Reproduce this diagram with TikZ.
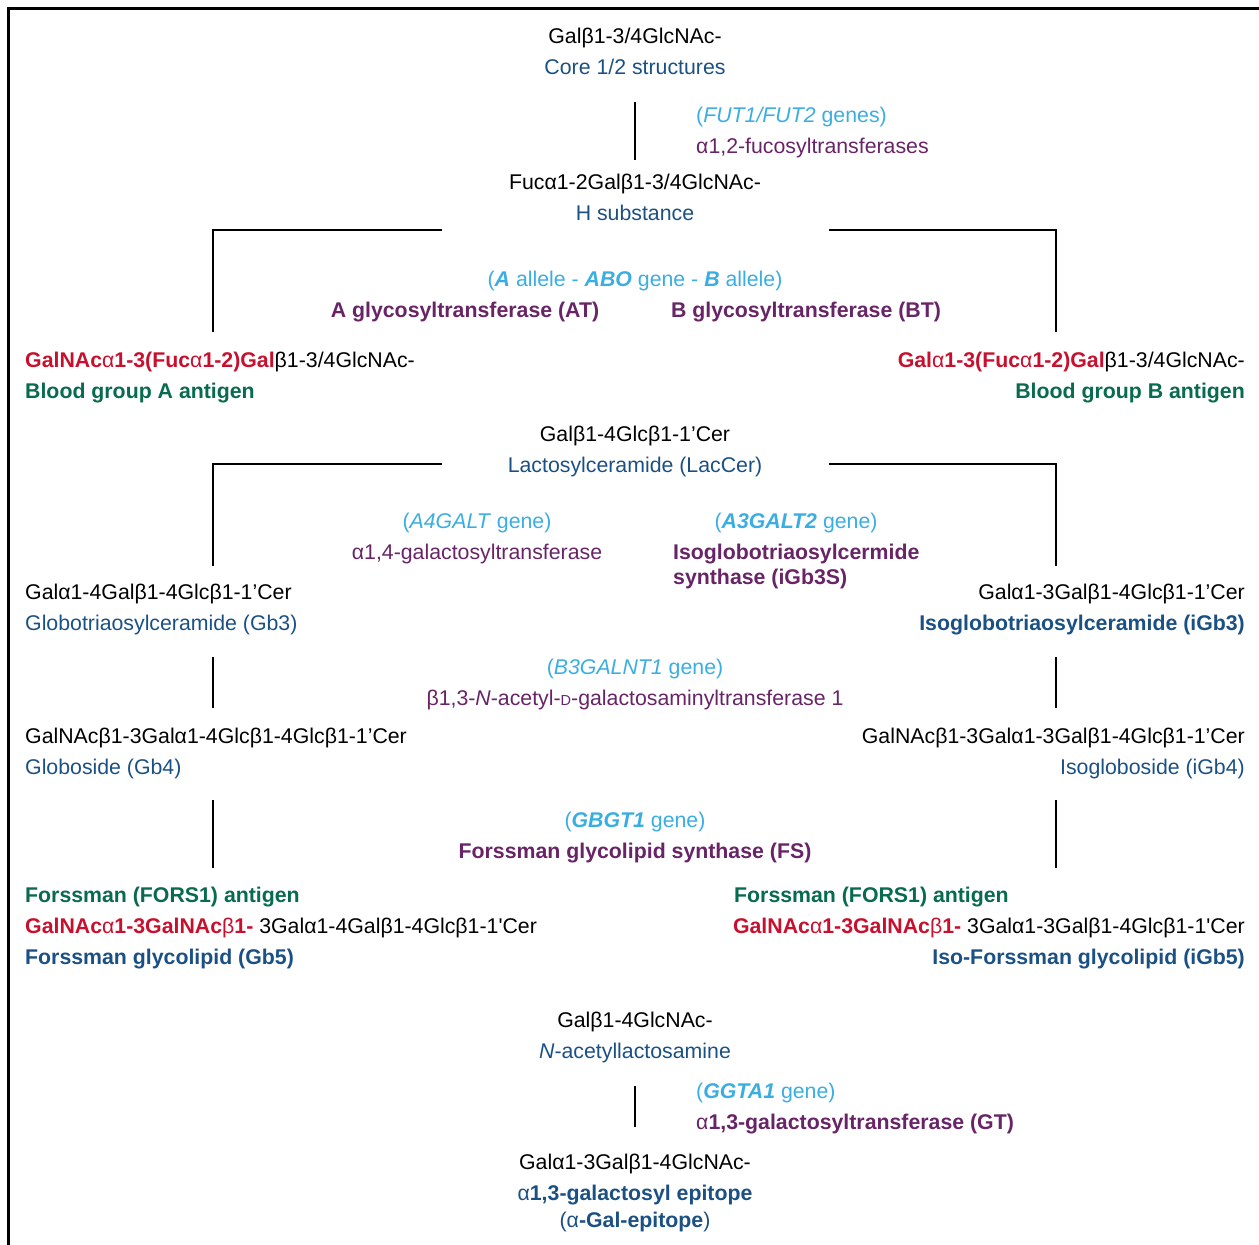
\documentclass[tikz,border=0pt]{standalone}
\usepackage{fontspec}
\setmainfont{Liberation Sans}
\usepackage{tikz}
\usetikzlibrary
  {
    positioning,              % place nodes relative to other nodes
  }

\definecolor{namblue}{RGB}{27,80,132}
\definecolor{genblue}{RGB}{58,174,226}
\definecolor{enzpurple}{RGB}{104,36,102}
\definecolor{epired}{RGB}{200,16,46}
\definecolor{antgreen}{RGB}{8,106,78}

\newcommand{\glyfont}{\fontsize{21.3}{25}\selectfont}
\newcommand{\smalld}{{\fontsize{14.5}{15}\selectfont D}}

\begin{document}
\begin{tikzpicture}
    [
      x=1pt, y=1pt,
      node distance=31pt,
      on grid,
      every node/.style=
        {
          inner sep=0pt,
          text height=15.2pt,
          text depth=0pt,
          font=\glyfont,
        },
      sugar/.style={text=black},
      trivial/.style={text=namblue},
      boldname/.style={text=namblue, font=\glyfont\bfseries},
      gene/.style={text=genblue},
      enzyme/.style={text=enzpurple},
      boldenzyme/.style={text=enzpurple, font=\glyfont\bfseries},
      antigen/.style={text=antgreen, font=\glyfont\bfseries},
      branch/.style={line width=2.8pt},
      frame/.style={line width=3pt},
    ]
    \useasboundingbox (0,0) rectangle (1259,-1245);

    % frame
    \coordinate (frametop)    at (1259,-8);
    \coordinate (framecorner) at (8,-8);
    \coordinate (framebottom) at (8,-1245);
    \draw[frame] (frametop) -- (framecorner) -- (framebottom);

    % H substance
    \node[sugar]   (core)     at (635,-36)             {Galβ1-3/4GlcNAc-};
    \node[trivial] (corename) [below=of core]          {Core 1/2 structures};
    \node[gene]    (fut)      at (696,-115) [anchor=west] {(\textit{FUT1/FUT2} genes)};
    \node[enzyme]  (futenz)   [below=of fut.west, anchor=west] {α1,2-fucosyltransferases};
    \node[sugar]   (hsub)     at (635,-182)            {Fucα1-2Galβ1-3/4GlcNAc-};
    \node[trivial] (hname)    [below=of hsub]          {H substance};

    % ABO
    \node[gene]       (abo)   at (635,-279)
      {(\textbf{\textit{A}} allele - \textbf{\textit{ABO}} gene - \textbf{\textit{B}} allele)};
    \node[boldenzyme] (atr)   at (465,-310)            {A glycosyltransferase (AT)};
    \node[boldenzyme] (btr)   at (806,-310)            {B glycosyltransferase (BT)};
    \node[sugar]      (agA)   at (25,-360) [anchor=west]
      {{\color{epired}\textbf{GalNAc}α\textbf{1-3(Fuc}α\textbf{1-2)Gal}}β1-3/4GlcNAc-};
    \node[antigen]    (agAname) [below=of agA.west, anchor=west] {Blood group A antigen};
    \node[sugar]      (agB)   at (1245,-360) [anchor=east]
      {{\color{epired}\textbf{Gal}α\textbf{1-3(Fuc}α\textbf{1-2)Gal}}β1-3/4GlcNAc-};
    \node[antigen]    (agBname) [below=of agB.east, anchor=east] {Blood group B antigen};

    % globo / isoglobo series
    \node[sugar]   (lac)      at (635,-434)            {Galβ1-4Glcβ1-1’Cer};
    \node[trivial] (lacname)  [below=of lac]           {Lactosylceramide (LacCer)};
    \node[gene]    (a4)       at (477,-521)            {(\textit{A4GALT} gene)};
    \node[enzyme]  (a4enz)    [below=of a4]            {α1,4-galactosyltransferase};
    \node[gene]    (a3)       at (796,-521)            {(\textbf{\textit{A3GALT2}} gene)};
    \node[boldenzyme] (a3enz) at (673,-552) [anchor=west] {Isoglobotriaosylcermide};
    \node[boldenzyme] (a3enzb) [below=25pt of a3enz.west, anchor=west] {synthase (iGb3S)};
    \node[sugar]   (gb3)      at (25,-592) [anchor=west] {Galα1-4Galβ1-4Glcβ1-1’Cer};
    \node[trivial] (gb3name)  [below=of gb3.west, anchor=west] {Globotriaosylceramide (Gb3)};
    \node[sugar]   (igb3)     at (1245,-592) [anchor=east] {Galα1-3Galβ1-4Glcβ1-1’Cer};
    \node[boldname] (igb3name) [below=of igb3.east, anchor=east] {Isoglobotriaosylceramide (iGb3)};

    \node[gene]    (b3gal)    at (635,-667)            {(\textit{B3GALNT1} gene)};
    \node[enzyme]  (b3enz)    [below=of b3gal]
      {β1,3-\textit{N}-acetyl-\smalld-galactosaminyltransferase 1};
    \node[sugar]   (gb4)      at (25,-736) [anchor=west] {GalNAcβ1-3Galα1-4Glcβ1-4Glcβ1-1’Cer};
    \node[trivial] (gb4name)  [below=of gb4.west, anchor=west] {Globoside (Gb4)};
    \node[sugar]   (igb4)     at (1245,-736) [anchor=east] {GalNAcβ1-3Galα1-3Galβ1-4Glcβ1-1’Cer};
    \node[trivial] (igb4name) [below=of igb4.east, anchor=east] {Isogloboside (iGb4)};

    \node[gene]    (gbgt)     at (635,-820)            {(\textbf{\textit{GBGT1}} gene)};
    \node[boldenzyme] (fs)    [below=of gbgt]          {Forssman glycolipid synthase (FS)};
    \node[antigen] (fors)     at (25,-895) [anchor=west] {Forssman (FORS1) antigen};
    \node[sugar]   (gb5)      [below=of fors.west, anchor=west]
      {{\color{epired}\textbf{GalNAc}α\textbf{1-3GalNAc}β\textbf{1-}} 3Galα1-4Galβ1-4Glcβ1-1\textquotesingle Cer};
    \node[boldname] (gb5name) [below=of gb5.west, anchor=west] {Forssman glycolipid (Gb5)};
    \node[antigen] (ifors)    at (734,-895) [anchor=west] {Forssman (FORS1) antigen};
    \node[sugar]   (igb5)     at (1245,-926) [anchor=east]
      {{\color{epired}\textbf{GalNAc}α\textbf{1-3GalNAc}β\textbf{1-}} 3Galα1-3Galβ1-4Glcβ1-1\textquotesingle Cer};
    \node[boldname] (igb5name) [below=of igb5.east, anchor=east] {Iso-Forssman glycolipid (iGb5)};

    % alpha-Gal epitope
    \node[sugar]   (lacnac)   at (635,-1020)           {Galβ1-4GlcNAc-};
    \node[trivial] (lacnacname) [below=of lacnac]      {\textit{N}-acetyllactosamine};
    \node[gene]    (ggta)     at (696,-1091) [anchor=west] {(\textbf{\textit{GGTA1}} gene)};
    \node[enzyme]  (gt)       [below=of ggta.west, anchor=west]
      {α\textbf{1,3-galactosyltransferase (GT)}};
    \node[sugar]   (agal)     at (635,-1162)           {Galα1-3Galβ1-4GlcNAc-};
    \node[trivial] (agalname) [below=of agal]          {α\textbf{1,3-galactosyl epitope}};
    \node[trivial] (agalnameb) [below=27pt of agalname] {(α\textbf{-Gal-epitope})};

    % connectors
    \coordinate (futtop)  at (635,-102);
    \coordinate (futbot)  at (635,-160);
    \coordinate (aboL)    at (442,-230);
    \coordinate (aboLend) at (213,-332);
    \coordinate (aboR)    at (829,-230);
    \coordinate (aboRend) at (1056,-332);
    \coordinate (lacL)    at (442,-464);
    \coordinate (lacLend) at (213,-566);
    \coordinate (lacR)    at (829,-464);
    \coordinate (lacRend) at (1056,-566);
    \coordinate (gb3top)  at (213,-657);
    \coordinate (gb3bot)  at (213,-708);
    \coordinate (igb3top) at (1056,-657);
    \coordinate (igb3bot) at (1056,-708);
    \coordinate (gb4top)  at (213,-800);
    \coordinate (gb4bot)  at (213,-868);
    \coordinate (igb4top) at (1056,-800);
    \coordinate (igb4bot) at (1056,-868);
    \coordinate (ggtatop) at (635,-1086);
    \coordinate (ggtabot) at (635,-1127);

    \draw[branch] (futtop) -- (futbot);
    \draw[branch] (aboL) -| (aboLend);
    \draw[branch] (aboR) -| (aboRend);
    \draw[branch] (lacL) -| (lacLend);
    \draw[branch] (lacR) -| (lacRend);
    \draw[branch] (gb3top) -- (gb3bot);
    \draw[branch] (igb3top) -- (igb3bot);
    \draw[branch] (gb4top) -- (gb4bot);
    \draw[branch] (igb4top) -- (igb4bot);
    \draw[branch] (ggtatop) -- (ggtabot);
\end{tikzpicture}
\end{document}
